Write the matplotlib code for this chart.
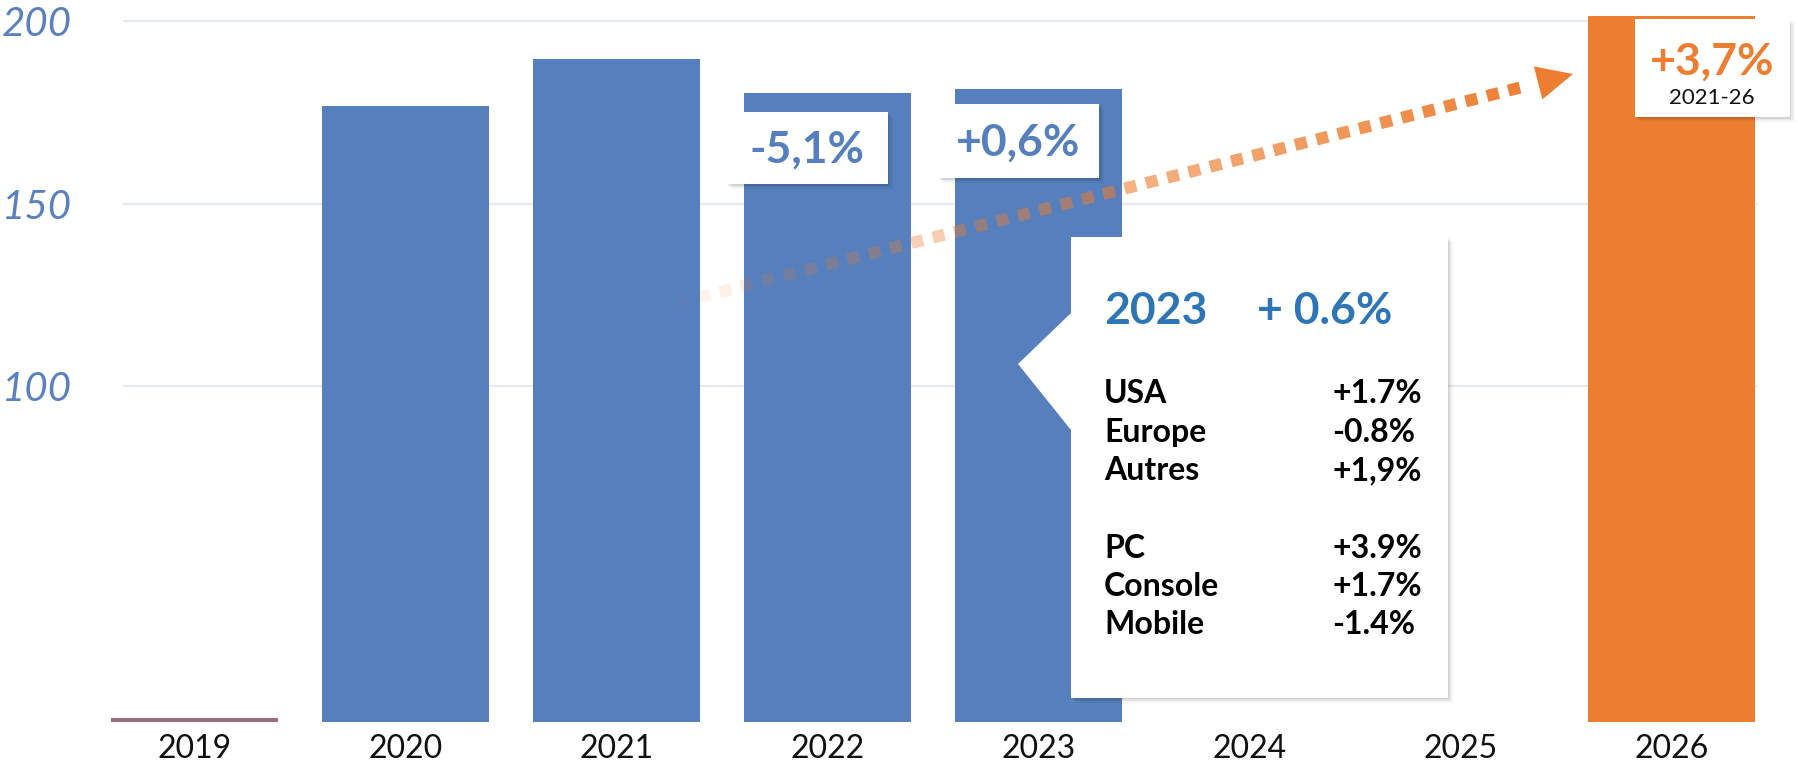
import numpy as np
import matplotlib
matplotlib.use('Agg')
import matplotlib.pyplot as plt
from matplotlib.patches import Polygon
from matplotlib.collections import LineCollection

plt.rcParams['font.family'] = ['Lato', 'DejaVu Sans']

# data
years = ['2019', '2020', '2021', '2022', '2023', '2024', '2025', '2026']
values = [8.86, 176.8, 189.7, 180.4, 181.5, np.nan, np.nan, 201.5]
bar_colors = ['#9A6A7E', '#557FBD', '#557FBD', '#557FBD', '#557FBD',
              '#557FBD', '#557FBD', '#ED7D31']
y_ticks = [100, 150, 200]

yoy_labels = ['-5,1%', '+0,6%']          # 2022, 2023
cagr_label = '+3,7%'
cagr_period = '2021-26'

focus_year = '2023'
focus_growth = '+ 0.6%'
regions = ['USA', 'Europe', 'Autres']
region_growth = ['+1.7%', '-0.8%', '+1,9%']
platforms = ['PC', 'Console', 'Mobile']
platform_growth = ['+3.9%', '+1.7%', '-1.4%']

BLUE = '#557FBD'
ORANGE = '#ED7D31'
W, H = 1799, 769


def fx(x):
    return x / W


def fy(y):
    return 1 - y / H


def shadowed_patch(fig, xy_px, zorder=5):
    # soft grey shadow + white shape, coords in pixels from top-left
    for off, a in [(5, 0.04), (3, 0.06), (1.5, 0.08)]:
        pts = [(fx(x + off), fy(y + off)) for x, y in xy_px]
        fig.add_artist(Polygon(pts, closed=True, transform=fig.transFigure,
                               facecolor='#000000', alpha=a, lw=0, zorder=zorder))
    pts = [(fx(x), fy(y)) for x, y in xy_px]
    fig.add_artist(Polygon(pts, closed=True, transform=fig.transFigure,
                           facecolor='white', lw=0, zorder=zorder + 0.1))


def rect_px(x0, y0, x1, y1):
    return [(x0, y0), (x1, y0), (x1, y1), (x0, y1)]


fig = plt.figure(figsize=(W / 100, H / 100), dpi=100)
ax = fig.add_axes([fx(89), 1 - 721.7 / H, (1777 - 89) / W, 721.7 / H])
ax.set_xlim(-0.5, 7.5)
ax.set_ylim(7.93, 205.87)

x = np.arange(len(years))
vals = np.array(values)
mask = ~np.isnan(vals)
ax.bar(x[mask], vals[mask], width=0.79,
       color=[c for c, m in zip(bar_colors, mask) if m], zorder=2)

ax.hlines(y_ticks, -0.339, 7.41, color='#E4E9F3', lw=1.6, zorder=1)

for s in ax.spines.values():
    s.set_visible(False)
ax.set_xticks(x)
ax.set_xticklabels(years, fontsize=23, color='#111111')
ax.set_yticks(y_ticks)
ax.set_yticklabels([str(t) for t in y_ticks], fontsize=29, style='italic',
                   color='#5A80C0')
ax.tick_params(axis='x', length=0, pad=9)
ax.tick_params(axis='y', length=0, pad=12)

# year-on-year boxes
for (x0, y0, x1, y1), lab in zip([(727, 112, 888, 184), (938, 104, 1099, 178)],
                                 yoy_labels):
    shadowed_patch(fig, rect_px(x0, y0, x1, y1), zorder=5)
    fig.text(fx((x0 + x1) / 2), fy((y0 + y1) / 2 + 2), lab, ha='center',
             va='center', fontsize=32, fontweight='bold', color=BLUE, zorder=7)

# dotted growth arrow with fading
start = np.array([677.0, 303.0])
tip = np.array([1573.0, 74.0])
u = (tip - start) / np.linalg.norm(tip - start)
nrm = np.array([u[1], -u[0]])
head_len, head_w = 36, 17
line_end = tip - head_len * u
total = np.linalg.norm(line_end - start)
segs, cols = [], []
d = 0.0
while d + 12 <= total:
    p0 = start + d * u
    p1 = start + (d + 12) * u
    segs.append([(fx(p0[0]), fy(p0[1])), (fx(p1[0]), fy(p1[1]))])
    t = d / total
    cols.append(matplotlib.colors.to_rgba(ORANGE, 0.04 + 0.96 * t ** 0.85))
    d += 22
fig.add_artist(LineCollection(segs, colors=cols, linewidths=12 * 0.72,
                              capstyle='butt', transform=fig.transFigure,
                              zorder=4))
base = tip - head_len * u
head = [tip, base + head_w * nrm, base - head_w * nrm]
fig.add_artist(Polygon([(fx(p[0]), fy(p[1])) for p in head], closed=True,
                       transform=fig.transFigure, facecolor=ORANGE, lw=0,
                       zorder=4))

# CAGR box on 2026
shadowed_patch(fig, rect_px(1635, 19, 1790, 117), zorder=5)
fig.text(fx(1712), fy(62), cagr_label, ha='center', va='center', fontsize=32,
         fontweight='bold', color=ORANGE, zorder=7)
fig.text(fx(1712), fy(98), cagr_period, ha='center', va='center', fontsize=16,
         color='#111111', zorder=7)

# tooltip callout for 2023
callout = [(1071, 237), (1448, 237), (1448, 698), (1071, 698), (1071, 430),
           (1018, 364), (1071, 313)]
shadowed_patch(fig, callout, zorder=5)
fig.text(fx(1104), fy(311), focus_year, ha='left', va='center', fontsize=32,
         fontweight='bold', color='#2E75B6', zorder=7)
fig.text(fx(1257), fy(311), focus_growth, ha='left', va='center', fontsize=32,
         fontweight='bold', color='#2E75B6', zorder=7)

row_y = [394, 432.5, 471, 548, 586.5, 625]
names = regions + platforms
growths = region_growth + platform_growth
for yy, nm, gr in zip(row_y, names, growths):
    fig.text(fx(1104), fy(yy), nm, ha='left', va='center', fontsize=23,
             fontweight='bold', color='black', zorder=7)
    fig.text(fx(1332), fy(yy), gr, ha='left', va='center', fontsize=23,
             fontweight='bold', color='black', zorder=7)

fig.savefig('out.png', dpi=100)
